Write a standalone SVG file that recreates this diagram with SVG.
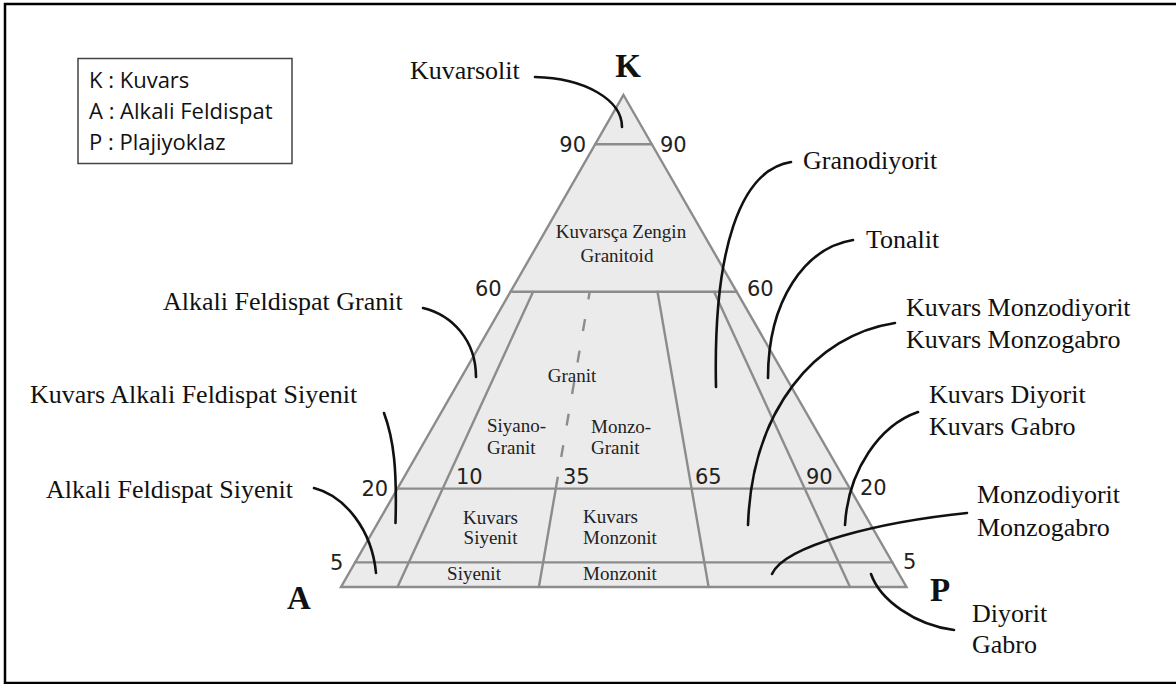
<svg xmlns="http://www.w3.org/2000/svg" width="1176" height="684" viewBox="0 0 1176 684">
<style>
.edge{fill:none;stroke:#8c8c8c;stroke-width:2.4;stroke-linecap:round}
.dash{fill:none;stroke:#8c8c8c;stroke-width:2.4;stroke-dasharray:12 20}
.lead{fill:none;stroke:#111;stroke-width:2.6;stroke-linecap:round}
.num{font-family:"DejaVu Sans",sans-serif;font-size:21px;fill:#222}
.in{font-family:"Liberation Serif","Times New Roman",serif;font-size:19px;fill:#222}
.out{font-family:"Liberation Serif","Times New Roman",serif;font-size:26px;fill:#111}
.vtx{font-family:"Liberation Serif","Times New Roman",serif;font-size:33px;font-weight:bold;fill:#111}
.leg{font-family:"Open Sans",sans-serif;font-size:22px;fill:#111}
</style>
<rect x="0" y="0" width="1176" height="684" fill="#fff"/>
<path d="M1180,4 H5 V683 H1180" fill="none" stroke="#000" stroke-width="2.5"/>

<g id="legend">
<rect x="78" y="58.5" width="214" height="105" fill="#fff" stroke="#444" stroke-width="1.5"/>
<text class="leg" x="89" y="88">K : Kuvars</text>
<text class="leg" x="89" y="119">A : Alkali Feldispat</text>
<text class="leg" x="89" y="150">P : Plajiyoklaz</text>
</g>

<g id="triangle">
<polygon points="623.5,95 906.5,587 341,587" fill="#ebebeb" stroke="none"/>
<line class="edge" x1="595.3" y1="144.2" x2="651.8" y2="144.2"/>
<line class="edge" x1="510.5" y1="291.8" x2="736.7" y2="291.8"/>
<line class="edge" x1="397.5" y1="488.6" x2="849.9" y2="488.6"/>
<line class="edge" x1="355.1" y1="562.4" x2="892.4" y2="562.4"/>
<line class="edge" x1="397.5" y1="587" x2="533.1" y2="291.8"/>
<line class="edge" x1="538.9" y1="587" x2="555.8" y2="488.6"/>
<line class="dash" x1="555.8" y1="488.6" x2="589.7" y2="291.8"/>
<line class="edge" x1="708.6" y1="587" x2="657.5" y2="291.8"/>
<line class="edge" x1="850" y1="587" x2="714.1" y2="291.8"/>
<polygon points="623.5,95 906.5,587 341,587" fill="none" stroke="#8c8c8c" stroke-width="2.4" stroke-linejoin="miter"/>
</g>

<g id="scale-numbers">
<text class="num" x="586" y="152" text-anchor="end">90</text>
<text class="num" x="660" y="152">90</text>
<text class="num" x="475" y="296">60</text>
<text class="num" x="747" y="296">60</text>
<text class="num" x="361.5" y="495.5">20</text>
<text class="num" x="456" y="484">10</text>
<text class="num" x="563" y="484">35</text>
<text class="num" x="695" y="483.5">65</text>
<text class="num" x="806" y="483.5">90</text>
<text class="num" x="860" y="494.5">20</text>
<text class="num" x="330" y="570">5</text>
<text class="num" x="903" y="569">5</text>
</g>

<g id="vertices">
<text class="vtx" x="628" y="77" text-anchor="middle">K</text>
<text class="vtx" x="299" y="609" text-anchor="middle">A</text>
<text class="vtx" x="940" y="601" text-anchor="middle">P</text>
</g>

<g id="fields">
<text class="in" x="621" y="238" text-anchor="middle">Kuvarsça Zengin</text>
<text class="in" x="617" y="262" text-anchor="middle">Granitoid</text>
<text class="in" x="572" y="382" text-anchor="middle">Granit</text>
<text class="in" x="487" y="432">Siyano-</text>
<text class="in" x="487" y="453.5">Granit</text>
<text class="in" x="591" y="433">Monzo-</text>
<text class="in" x="591" y="454">Granit</text>
<text class="in" x="490.5" y="523.5" text-anchor="middle">Kuvars</text>
<text class="in" x="490.5" y="544" text-anchor="middle">Siyenit</text>
<text class="in" x="474" y="580" text-anchor="middle">Siyenit</text>
<text class="in" x="583" y="523">Kuvars</text>
<text class="in" x="583" y="543.5">Monzonit</text>
<text class="in" x="583" y="580">Monzonit</text>
</g>

<g id="labels">
<text class="out" x="410" y="79">Kuvarsolit</text>
<text class="out" x="803" y="169">Granodiyorit</text>
<text class="out" x="866" y="248">Tonalit</text>
<text class="out" x="906" y="316">Kuvars Monzodiyorit</text>
<text class="out" x="906" y="348">Kuvars Monzogabro</text>
<text class="out" x="929" y="403">Kuvars Diyorit</text>
<text class="out" x="929" y="435">Kuvars Gabro</text>
<text class="out" x="977" y="503">Monzodiyorit</text>
<text class="out" x="977" y="536">Monzogabro</text>
<text class="out" x="972" y="622">Diyorit</text>
<text class="out" x="972" y="653">Gabro</text>
<text class="out" x="163" y="310">Alkali Feldispat Granit</text>
<text class="out" x="30" y="403">Kuvars Alkali Feldispat Siyenit</text>
<text class="out" x="46" y="498">Alkali Feldispat Siyenit</text>
</g>

<g id="connectors">
<path class="lead" d="M535,77 C585,78 622,100 622,127"/>
<path class="lead" d="M423,308 C452,315 476,340 476,377"/>
<path class="lead" d="M384,413 C394,440 397,470 395.5,523"/>
<path class="lead" d="M314,488 C345,496 372,530 376,573"/>
<path class="lead" d="M791,162 C740,170 713,250 716,387"/>
<path class="lead" d="M853,240 C805,248 768,300 768,378"/>
<path class="lead" d="M895,323 C815,335 752,410 748,525"/>
<path class="lead" d="M918,412 C880,425 848,470 845,525"/>
<path class="lead" d="M967,513 C880,522 785,545 772,574"/>
<path class="lead" d="M871,574 C880,600 915,625 954,630"/>
</g>
</svg>
